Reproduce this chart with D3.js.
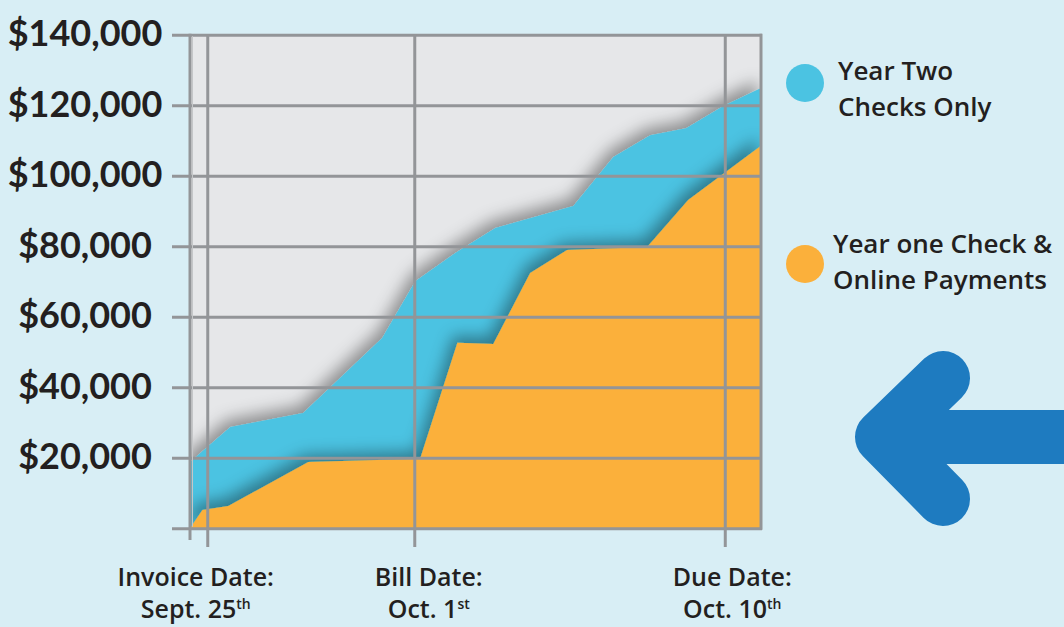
<!DOCTYPE html>
<html>
<head>
<meta charset="utf-8">
<script src="https://cdn.jsdelivr.net/npm/d3@7"></script>
<style>
  html, body { margin: 0; padding: 0; background: #d8eef5; }
  svg { display: block; }
</style>
</head>
<body>
<svg id="chart" width="1064" height="627"></svg>
<script>
// x values are days counted from the invoice date (Sept. 25 = 0)
const yearTwoDays   = [-0.5, 0.67, 2.78, 5.07, 6.03, 7.19, 8.35, 10.61, 11.77, 12.84, 13.88, 14.96, 16.05];
const yearTwoValues = [18800, 28700, 32700, 54000, 70100, 78100, 85200, 91400, 105300, 111500, 113500, 119800, 124900];

const yearOneDays   = [-0.5, -0.14, 0.61, 2.93, 6.17, 7.25, 8.29, 9.36, 10.43, 12.75, 13.94, 16.05];
const yearOneValues = [0, 5200, 6300, 18800, 19700, 52600, 52300, 72400, 78900, 79800, 93100, 108500];

const yTicks = [0, 20000, 40000, 60000, 80000, 100000, 120000, 140000];

const dateTicks   = [0, 6, 15];
const dateTitles  = ["Invoice Date:", "Bill Date:", "Due Date:"];
const dateLabels  = ["Sept. 25", "Oct. 1", "Oct. 10"];
const dateSuffix  = ["th", "st", "th"];

const legendLabels = [["Year Two", "Checks Only"], ["Year one Check &", "Online Payments"]];

const blue = "#4bc3e2";
const orange = "#fbb03b";
const grid = "#939598";
const ink = "#231f20";
const labelFont = "Open Sans";

const svg = d3.select("#chart");

const x = d3.scaleLinear().domain([-0.5, 16.05]).range([190, 761]);
const y = d3.scaleLinear().domain([0, 140000]).range([528.3, 34.7]);

// soft shadow cast to the upper left
const defs = svg.append("defs");
const f = defs.append("filter").attr("id", "shade")
    .attr("x", "-20%").attr("y", "-20%").attr("width", "140%").attr("height", "140%");
f.append("feDropShadow")
    .attr("dx", -4).attr("dy", -7)
    .attr("stdDeviation", 8)
    .attr("flood-color", "#000")
    .attr("flood-opacity", 0.38);

defs.append("clipPath").attr("id", "plotClip")
  .append("rect")
    .attr("x", x(-0.5)).attr("y", y(140000))
    .attr("width", x(16.05) - x(-0.5)).attr("height", y(0) - y(140000));

// plot background
svg.append("rect")
    .attr("x", x(-0.5)).attr("y", y(140000))
    .attr("width", x(16.05) - x(-0.5)).attr("height", y(0) - y(140000))
    .attr("fill", "#e6e7e9");

const area = d3.area()
    .x(d => x(d[0]))
    .y0(y(0))
    .y1(d => y(d[1]));

const plot = svg.append("g").attr("clip-path", "url(#plotClip)");

plot.append("path")
    .datum(yearTwoDays.map((d, i) => [d, yearTwoValues[i]]))
    .attr("fill", blue)
    .attr("filter", "url(#shade)")
    .attr("d", area);

plot.append("path")
    .datum(yearOneDays.map((d, i) => [d, yearOneValues[i]]))
    .attr("fill", orange)
    .attr("filter", "url(#shade)")
    .attr("d", area);

// horizontal grid + dollar labels
const yAxis = svg.append("g")
    .attr("transform", "translate(762,0)")
    .call(d3.axisLeft(y)
        .tickValues(yTicks)
        .tickSize(762 - 172)
        .tickFormat(d => d === 0 ? "" : "$" + d3.format(",")(d)));

yAxis.select(".domain").remove();
yAxis.selectAll(".tick line").attr("stroke", grid).attr("stroke-width", 3);
yAxis.selectAll(".tick text")
    .attr("x", 85 - 762)
    .attr("dy", "0.3em")
    .attr("text-anchor", "middle")
    .attr("fill", ink)
    .style("font-family", "Lato")
    .style("font-weight", 700)
    .style("font-size", "36px");

// vertical date lines
const labelNudge = [-12, 14, 7];
const xAxis = svg.append("g")
    .attr("transform", "translate(0,547)")
    .call(d3.axisBottom(x)
        .tickValues(dateTicks)
        .tickSize(-(547 - 34))
        .tickFormat(""));

xAxis.select(".domain").remove();
xAxis.selectAll(".tick line").attr("stroke", grid).attr("stroke-width", 3);

xAxis.selectAll(".tick").each(function(d, i) {
    const g = d3.select(this);
    g.append("text")
        .attr("fill", ink)
        .attr("text-anchor", "middle")
        .attr("x", labelNudge[i]).attr("y", 39)
        .style("font-family", labelFont)
        .style("font-weight", 600)
        .style("font-size", "25px")
        .text(dateTitles[i]);
    const t2 = g.append("text")
        .attr("fill", ink)
        .attr("text-anchor", "middle")
        .attr("x", labelNudge[i]).attr("y", 71)
        .style("font-family", labelFont)
        .style("font-weight", 600)
        .style("font-size", "25px");
    t2.append("tspan").text(dateLabels[i]);
    t2.append("tspan")
        .attr("dy", -9)
        .style("font-size", "14px")
        .text(dateSuffix[i]);
});

// left axis and right border
svg.append("line")
    .attr("x1", x(-0.5)).attr("x2", x(-0.5))
    .attr("y1", y(140000) - 1).attr("y2", 540)
    .attr("stroke", grid).attr("stroke-width", 3);
svg.append("line")
    .attr("x1", x(-0.5) + 2.5).attr("x2", x(-0.5) + 2.5)
    .attr("y1", y(140000) + 1.5).attr("y2", y(0) - 1.5)
    .attr("stroke", "#c4c6c8").attr("stroke-width", 1);
svg.append("line")
    .attr("x1", x(16.05)).attr("x2", x(16.05))
    .attr("y1", y(140000) - 1).attr("y2", y(0) + 1.5)
    .attr("stroke", grid).attr("stroke-width", 3);

// legend
const legend = svg.append("g");
const legendColors = [blue, orange];
const legendY = [83, 264];
legendLabels.forEach((lines, i) => {
    legend.append("circle")
        .attr("cx", 805).attr("cy", legendY[i]).attr("r", 19)
        .attr("fill", legendColors[i]);
    const tx = i === 0 ? 838 : 833;
    const base = i === 0 ? 80 : 253;
    lines.forEach((ln, j) => {
        legend.append("text")
            .attr("x", tx).attr("y", base + j * 36)
            .attr("fill", ink)
            .style("font-family", labelFont)
            .style("font-weight", 600)
            .style("font-size", "26px")
            .text(ln);
    });
});

// big arrow
svg.append("path")
    .attr("d", "M1110,437 L882,437 M943,378 L882,437 L943,499")
    .attr("fill", "none")
    .attr("stroke", "#1e7bc0")
    .attr("stroke-width", 54)
    .attr("stroke-linecap", "round")
    .attr("stroke-linejoin", "round");
</script>
</body>
</html>
